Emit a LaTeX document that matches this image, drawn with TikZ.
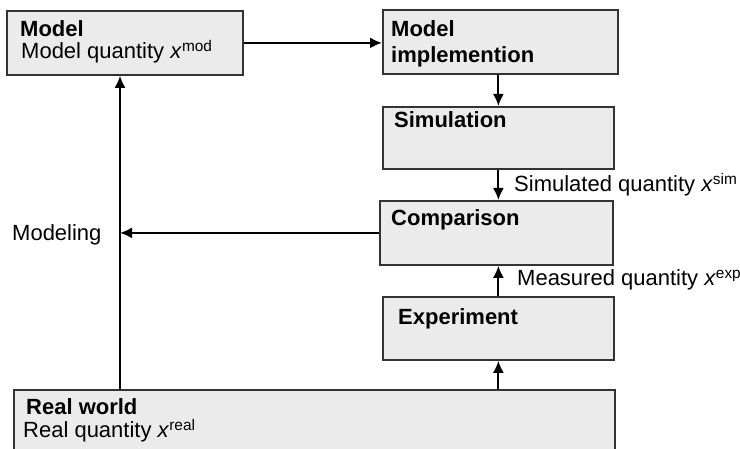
\documentclass[tikz,border=0pt]{standalone}
\usepackage{fontspec}
\setmainfont{Liberation Sans}
\usepackage{xcolor}
\usetikzlibrary{shapes, arrows.meta, positioning}

\definecolor{boxgray}{gray}{0.92}
\definecolor{edgegray}{gray}{0.2}

\begin{document}
\begin{tikzpicture}[x=1pt, y=-1pt,
    block/.style={draw=edgegray, fill=boxgray, line width=1.8pt, inner sep=0pt, anchor=north west},
    txt/.style={inner sep=0pt, anchor=base west, font=\fontsize{22}{26}\selectfont},
    flow/.style={-{Latex[length=12pt,width=11pt]}, line width=2pt}]
      \useasboundingbox (0,0) rectangle (740,449);

      \node[block, minimum width=236pt, minimum height=64pt] at (6,10) (model) {};
      \node[block, minimum width=235pt, minimum height=64pt] at (382,9) (implem) {};
      \node[block, minimum width=231pt, minimum height=62pt] at (382,106) (simul) {};
      \node[block, minimum width=233pt, minimum height=64pt] at (379,200) (compar) {};
      \node[block, minimum width=231pt, minimum height=63pt] at (382,296) (exper) {};
      \node[block, minimum width=601pt, minimum height=80pt] at (13,389) (real) {};

      \node[txt] at (20,37) (model-a) {\textbf{Model}};
      \node[txt] at (21,59) (model-b) {Model quantity \textit{x}\textsuperscript{mod}};
      \node[txt] at (391,37) (implem-a) {\textbf{Model}};
      \node[txt] at (391,63) (implem-b) {\textbf{implemention}};
      \node[txt] at (394,128) (simul-a) {\textbf{Simulation}};
      \node[txt] at (391,226) (compar-a) {\textbf{Comparison}};
      \node[txt] at (398,325) (exper-a) {\textbf{Experiment}};
      \node[txt] at (26,415) (real-a) {\textbf{Real world}};
      \node[txt] at (23,438) (real-b) {Real quantity \textit{x}\textsuperscript{real}};

      \node[txt] at (12,241) (modeling) {Modeling};
      \node[txt] at (514,192) (simq) {Simulated quantity \textit{x}\textsuperscript{sim}};
      \node[txt] at (517,286) (expq) {Measured quantity \textit{x}\textsuperscript{exp}};

      \coordinate (mline) at (120,0);

      \draw[flow] (model.east) -- (model.east -| implem.west);
      \draw[flow] (simul.north |- implem.south) -- (simul.north);
      \draw[flow] (simul.south) -- (simul.south |- compar.north);
      \draw[flow] (exper.north) -- (exper.north |- compar.south);
      \draw[flow] (exper.south |- real.north) -- (exper.south);
      \draw[flow] (mline |- real.north) -- (mline |- model.south);
      \draw[flow] (compar.west) -- (compar.west -| mline);
    \end{tikzpicture}
\end{document}
